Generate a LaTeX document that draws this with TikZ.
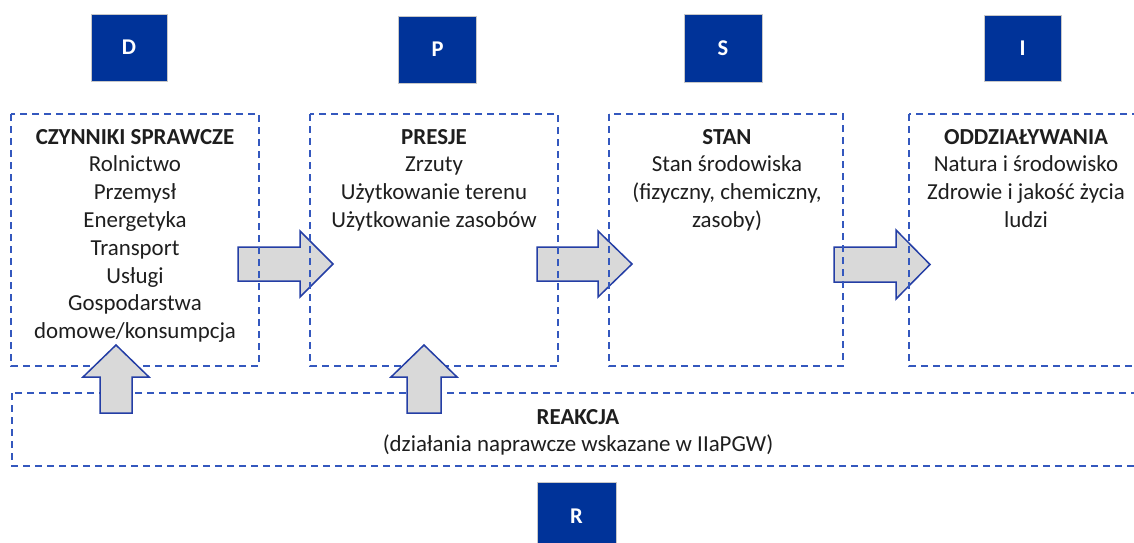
\documentclass[tikz,border=0pt]{standalone}
\usepackage{fontspec}
\setmainfont{Carlito}
\definecolor{darkblue}{RGB}{0,51,153}
\definecolor{letterborder}{RGB}{200,200,200}
\definecolor{dashblue}{RGB}{52,88,190}
\definecolor{arrowblue}{RGB}{36,62,165}
\definecolor{arrowgray}{RGB}{217,217,217}
\definecolor{textgray}{RGB}{30,30,30}
\tikzset{
  letter/.style={draw=letterborder, line width=1pt, fill=darkblue, text=white,
    font=\fontsize{22.5}{26}\selectfont\bfseries, inner sep=0pt},
  dbox/.style={draw=dashblue, line width=1.7pt, dash pattern=on 7pt off 5pt, inner sep=0pt},
  blockarrow/.style={draw=arrowblue, line width=1.5pt, fill=arrowgray, line join=miter},
  txt/.style={align=center, font=\fontsize{22.9}{27.8}\selectfont, text=textgray, inner sep=0pt, anchor=north}
}
\begin{document}
\begin{tikzpicture}[x=1pt,y=-1pt]
\useasboundingbox (0,0) rectangle (1134,542);
\clip (0,0) rectangle (1134,542);

% letter boxes
\node[letter, minimum width=76pt, minimum height=67pt] (D) at (129,47.5) {D};
\node[letter, minimum width=78pt, minimum height=67pt] (P) at (437.5,49.5) {P};
\node[letter, minimum width=78pt, minimum height=68pt] (S) at (723,48) {S};
\node[letter, minimum width=77pt, minimum height=66pt] (I) at (1022.5,48) {I};
\node[letter, minimum width=79pt, minimum height=68pt] (R) at (576.5,516) {R};

% horizontal block arrows (behind dashed boxes)
\coordinate (a1) at (238,264);
\coordinate (a2) at (537,264);
\coordinate (a3) at (834,264.5);
\draw[blockarrow] (a1) ++(0,-17) -- ++(62,0) -- ++(0,-16) -- (333,264) -- (300,297) -- ++(0,-16) -- ++(-62,0) -- cycle;
\draw[blockarrow] (a2) ++(0,-17) -- ++(61,0) -- ++(0,-16) -- (632,264) -- (598,297) -- ++(0,-16) -- ++(-61,0) -- cycle;
\draw[blockarrow] (a3) ++(0,-17.5) -- ++(62,0) -- ++(0,-17) -- (930,264.5) -- (896,299) -- ++(0,-17) -- ++(-62,0) -- cycle;

% dashed boxes
\draw[dbox] (11,114) rectangle (259,366);
\draw[dbox] (310,114) rectangle (558,366);
\draw[dbox] (609,114) rectangle (843,366);
\draw[dbox] (909,114) rectangle (1150,366);
\draw[dbox] (12,393) rectangle (1150,466);

% texts
\node[txt] (t1) at (135,124.5) {\strut\textbf{CZYNNIKI SPRAWCZE}\\Rolnictwo\\Przemysł\\Energetyka\\Transport\\Usługi\\Gospodarstwa\\domowe/konsumpcja};
\node[txt] (t2) at (434,124.5) {\strut\textbf{PRESJE}\\Zrzuty\\Użytkowanie terenu\\Użytkowanie zasobów};
\node[txt] (t3) at (727,124.5) {\strut\textbf{STAN}\\Stan środowiska\\(fizyczny, chemiczny,\\zasoby)};
\node[txt] (t4) at (1026,124.5) {\strut\textbf{ODDZIAŁYWANIA}\\Natura i środowisko\\Zdrowie i jakość życia\\ludzi};
\node[txt] (t5) at (578,404.5) {\strut\textbf{REAKCJA}\\(działania naprawcze wskazane w IIaPGW)};

% upward block arrows (from REAKCJA)
\coordinate (u1) at (116,413);
\coordinate (u2) at (424,413);
\draw[blockarrow] (u1) ++(-16,0) -- ++(0,-36) -- ++(-17,0) -- (116,345) -- (149,377) -- ++(-17,0) -- ++(0,36) -- cycle;
\draw[blockarrow] (u2) ++(-17,0) -- ++(0,-36) -- ++(-16,0) -- (424,345) -- (457,377) -- ++(-16,0) -- ++(0,36) -- cycle;
\end{tikzpicture}
\end{document}
